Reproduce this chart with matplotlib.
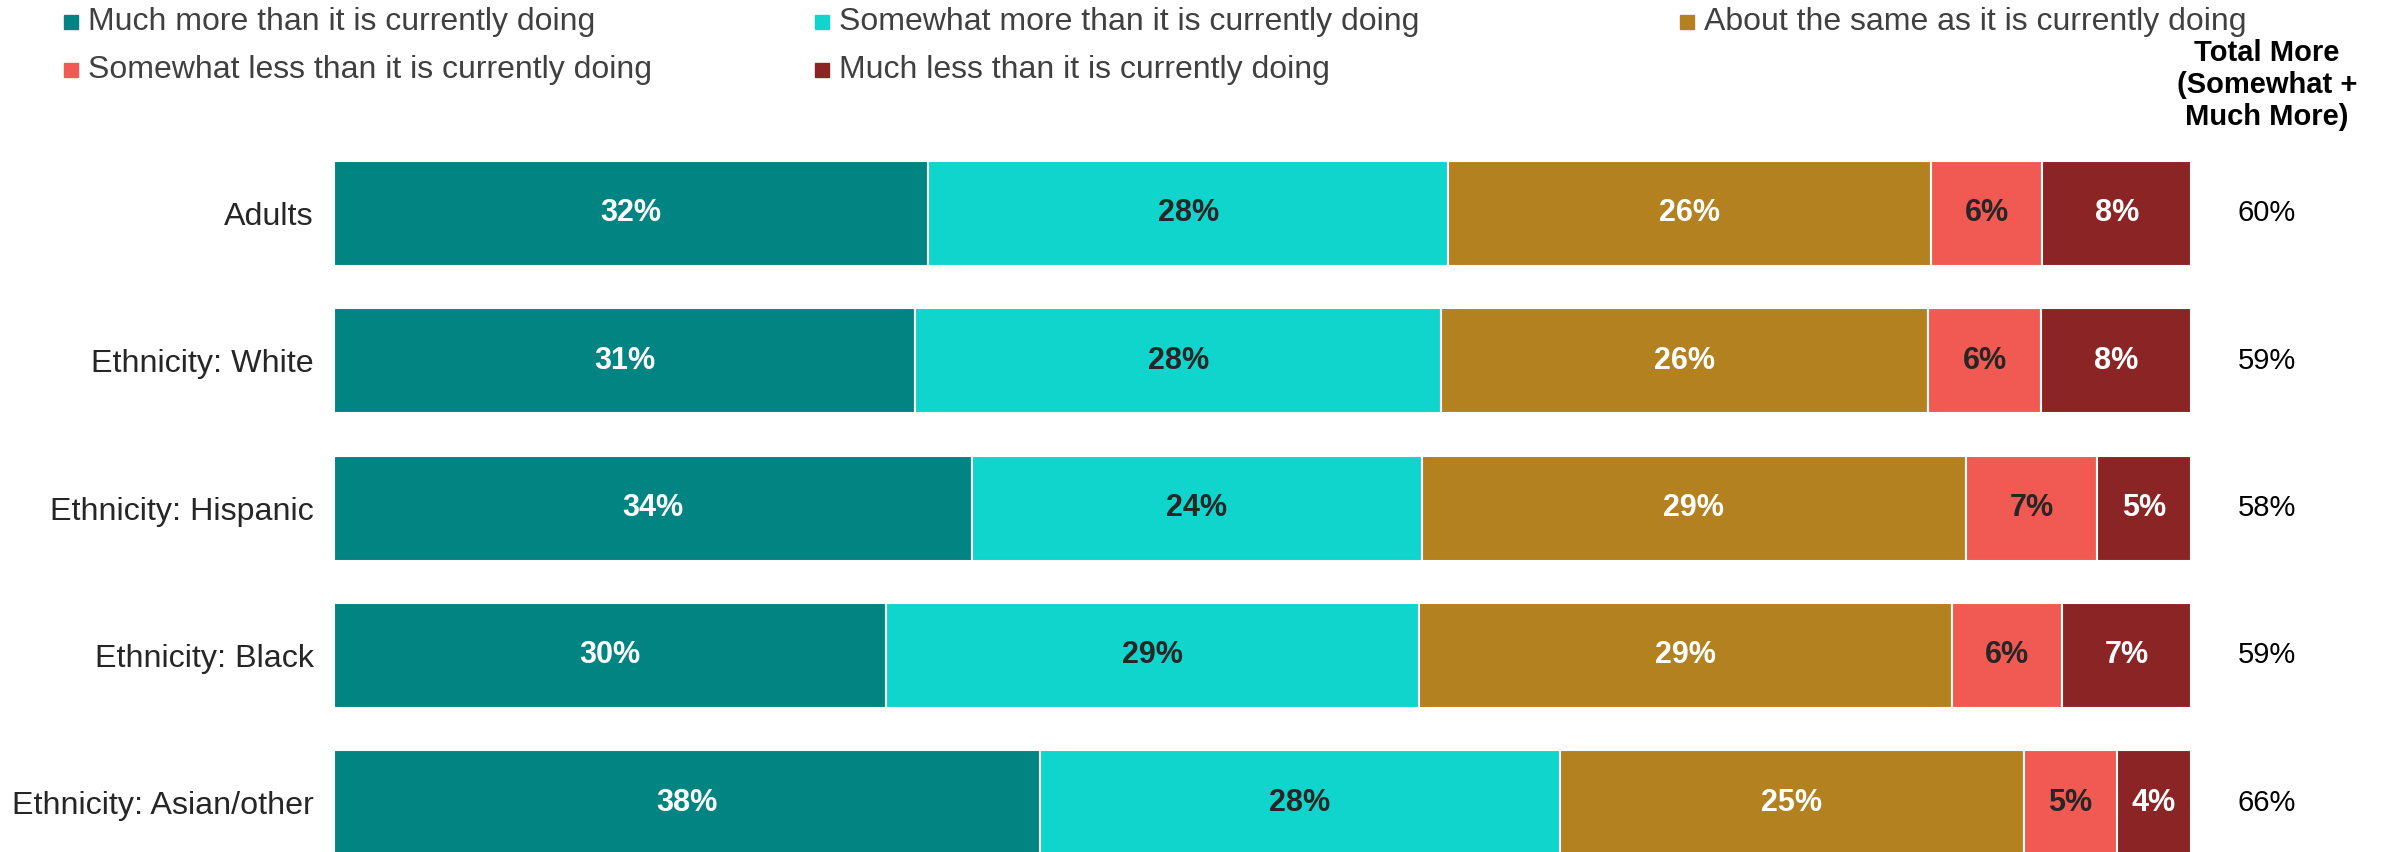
import matplotlib
matplotlib.use("Agg")
import matplotlib.pyplot as plt
import numpy as np

categories = ["Adults", "Ethnicity: White", "Ethnicity: Hispanic", "Ethnicity: Black", "Ethnicity: Asian/other"]
series_names = [
    "Much more than it is currently doing",
    "Somewhat more than it is currently doing",
    "About the same as it is currently doing",
    "Somewhat less than it is currently doing",
    "Much less than it is currently doing",
]
much_more = [32, 31, 34, 30, 38]
somewhat_more = [28, 28, 24, 29, 28]
about_same = [26, 26, 29, 29, 25]
somewhat_less = [6, 6, 7, 6, 5]
much_less = [8, 8, 5, 7, 4]
total_more = [60, 59, 58, 59, 66]

colors = ["#028482", "#0FD5CC", "#B3811F", "#F05A52", "#8B2525"]
label_colors = ["white", "#262626", "white", "#262626", "white"]

W, H = 2381, 852
fig = plt.figure(figsize=(W / 100, H / 100), dpi=100)
plt.rcParams['font.family'] = ['Liberation Sans', 'DejaVu Sans']

ax_left, ax_right = 334, 2191
ax_top, ax_bot = 140, 852
ax = fig.add_axes([ax_left / W, 1 - ax_bot / H, (ax_right - ax_left) / W, (ax_bot - ax_top) / H])

data = np.array([much_more, somewhat_more, about_same, somewhat_less, much_less], dtype=float)
norm = data / data.sum(axis=0) * 100
y = np.arange(len(categories))
left = np.zeros(len(categories))
bar_h = 0.713
for k in range(len(series_names)):
    ax.barh(y, norm[k], left=left, height=bar_h, color=colors[k], edgecolor="white", linewidth=1.5)
    for i in range(len(categories)):
        ax.text(left[i] + norm[k][i] / 2, y[i], f"{int(data[k][i])}%", ha="center", va="center",
                fontsize=22, fontweight="bold", color=label_colors[k])
    left += norm[k]

ax.set_xlim(0, 100)
ax.set_ylim(4.335, -0.499)
ax.set_yticks(y)
ax.set_yticklabels(categories, fontsize=23.2, color="#262626")
ax.tick_params(axis="y", length=0, pad=14.5)
ax.set_xticks([])
for s in ax.spines.values():
    s.set_visible(False)

# Total More column
for i in range(len(categories)):
    yy = ax.transData.transform((0, y[i]))[1]
    fig.text(2267 / W, yy / H, f"{total_more[i]}%", ha="center", va="center", fontsize=21, color="black")

fig.text(2267 / W, 1 - 85 / H, "Total More\n(Somewhat +\nMuch More)", ha="center", va="center",
         fontsize=21, fontweight="bold", color="black", linespacing=1.2)

# Legend
leg_rows = [22, 70]
leg_pos = [(71, 0), (822, 0), (1687, 0), (71, 1), (822, 1)]
for k, name in enumerate(series_names):
    x0, r = leg_pos[k]
    yc = 1 - leg_rows[r] / H
    fig.patches.append(plt.Rectangle(((x0 - 7) / W, yc - 7 / H), 14 / W, 14 / H, color=colors[k],
                                     transform=fig.transFigure, figure=fig))
    fig.text((x0 + 17) / W, yc, name, ha="left", va="center", fontsize=23, color="#404040")

fig.savefig("out.png", dpi=100)
